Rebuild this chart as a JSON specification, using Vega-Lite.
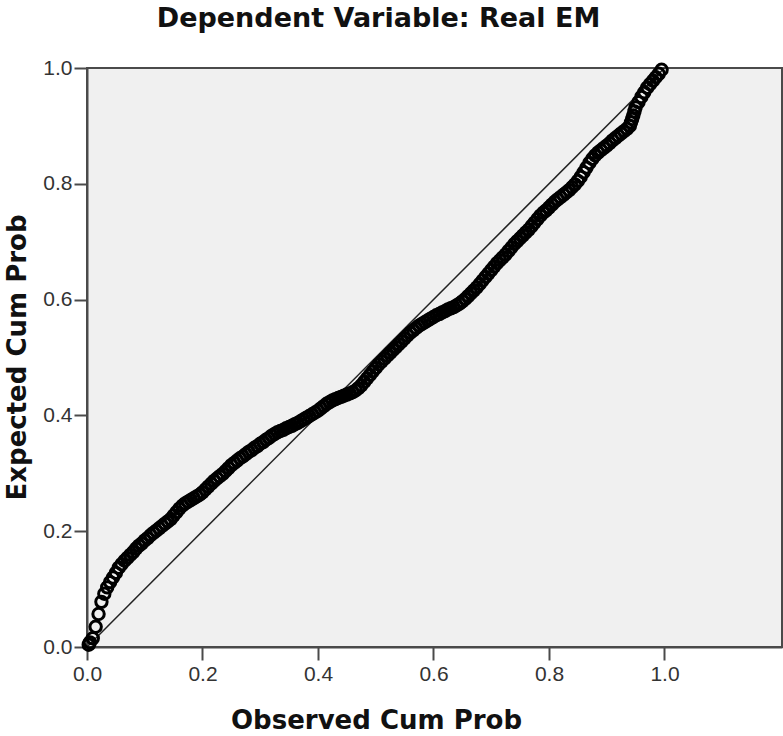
{
  "$schema": "https://vega.github.io/schema/vega-lite/v6.json",
  "width": 695,
  "height": 579,
  "autosize": {"type": "none"},
  "padding": {"left": 87, "top": 68, "right": 1, "bottom": 89},
  "background": "white",
  "config": {
    "view": {"fill": "#f0f0f0", "stroke": "#4a4a4a", "strokeWidth": 2},
    "axis": {
      "grid": false,
      "labelFlush": false,
      "labelOverlap": false,
      "domainColor": "#4a4a4a",
      "domainWidth": 2,
      "tickColor": "#4a4a4a",
      "tickWidth": 2,
      "tickSize": 13,
      "labelFont": "Liberation Sans",
      "labelFontSize": 21,
      "labelColor": "#333333",
      "titleFont": "DejaVu Sans",
      "titleFontWeight": "bold",
      "titleFontSize": 26,
      "titleColor": "#111111"
    },
    "title": {"font": "DejaVu Sans", "fontWeight": "bold", "fontSize": 27, "color": "#111111"}
  },
  "title": {"text": "Dependent Variable: Real EM", "anchor": "middle", "frame": "group", "dx": -56, "offset": 24},
  "datasets": {
    "pts": [
      {"obs":0.003,"exp":0.004},{"obs":0.005,"exp":0.008},{"obs":0.010,"exp":0.015},{"obs":0.015,"exp":0.035},
      {"obs":0.020,"exp":0.057},{"obs":0.025,"exp":0.078},{"obs":0.030,"exp":0.092},{"obs":0.035,"exp":0.103},
      {"obs":0.040,"exp":0.112},{"obs":0.045,"exp":0.120},{"obs":0.050,"exp":0.128},{"obs":0.055,"exp":0.137},
      {"obs":0.060,"exp":0.143},{"obs":0.065,"exp":0.149},{"obs":0.070,"exp":0.154},{"obs":0.075,"exp":0.159},
      {"obs":0.080,"exp":0.164},{"obs":0.085,"exp":0.170},{"obs":0.090,"exp":0.175},{"obs":0.095,"exp":0.179},
      {"obs":0.100,"exp":0.184},{"obs":0.105,"exp":0.188},{"obs":0.110,"exp":0.193},{"obs":0.115,"exp":0.197},
      {"obs":0.120,"exp":0.201},{"obs":0.125,"exp":0.205},{"obs":0.130,"exp":0.209},{"obs":0.135,"exp":0.213},
      {"obs":0.140,"exp":0.217},{"obs":0.145,"exp":0.221},{"obs":0.150,"exp":0.227},{"obs":0.155,"exp":0.233},
      {"obs":0.160,"exp":0.239},{"obs":0.165,"exp":0.244},{"obs":0.170,"exp":0.248},{"obs":0.175,"exp":0.251},
      {"obs":0.180,"exp":0.254},{"obs":0.185,"exp":0.257},{"obs":0.190,"exp":0.260},{"obs":0.195,"exp":0.263},
      {"obs":0.200,"exp":0.267},{"obs":0.205,"exp":0.272},{"obs":0.210,"exp":0.277},{"obs":0.215,"exp":0.282},
      {"obs":0.220,"exp":0.287},{"obs":0.225,"exp":0.291},{"obs":0.230,"exp":0.295},{"obs":0.235,"exp":0.299},
      {"obs":0.240,"exp":0.304},{"obs":0.245,"exp":0.309},{"obs":0.250,"exp":0.314},{"obs":0.255,"exp":0.318},
      {"obs":0.260,"exp":0.322},{"obs":0.265,"exp":0.326},{"obs":0.270,"exp":0.329},{"obs":0.275,"exp":0.333},
      {"obs":0.280,"exp":0.337},{"obs":0.285,"exp":0.340},{"obs":0.290,"exp":0.344},{"obs":0.295,"exp":0.347},
      {"obs":0.300,"exp":0.351},{"obs":0.305,"exp":0.354},{"obs":0.310,"exp":0.358},{"obs":0.315,"exp":0.361},
      {"obs":0.320,"exp":0.365},{"obs":0.325,"exp":0.368},{"obs":0.330,"exp":0.371},{"obs":0.335,"exp":0.373},
      {"obs":0.340,"exp":0.375},{"obs":0.345,"exp":0.378},{"obs":0.350,"exp":0.380},{"obs":0.355,"exp":0.382},
      {"obs":0.360,"exp":0.385},{"obs":0.365,"exp":0.387},{"obs":0.370,"exp":0.390},{"obs":0.375,"exp":0.393},
      {"obs":0.380,"exp":0.396},{"obs":0.385,"exp":0.399},{"obs":0.390,"exp":0.402},{"obs":0.395,"exp":0.405},
      {"obs":0.400,"exp":0.408},{"obs":0.405,"exp":0.412},{"obs":0.410,"exp":0.416},{"obs":0.415,"exp":0.420},
      {"obs":0.420,"exp":0.423},{"obs":0.425,"exp":0.426},{"obs":0.430,"exp":0.428},{"obs":0.435,"exp":0.430},
      {"obs":0.440,"exp":0.432},{"obs":0.445,"exp":0.434},{"obs":0.450,"exp":0.436},{"obs":0.455,"exp":0.438},
      {"obs":0.460,"exp":0.440},{"obs":0.465,"exp":0.443},{"obs":0.470,"exp":0.447},{"obs":0.475,"exp":0.452},
      {"obs":0.480,"exp":0.458},{"obs":0.485,"exp":0.464},{"obs":0.490,"exp":0.470},{"obs":0.495,"exp":0.476},
      {"obs":0.500,"exp":0.482},{"obs":0.505,"exp":0.488},{"obs":0.510,"exp":0.493},{"obs":0.515,"exp":0.498},
      {"obs":0.520,"exp":0.503},{"obs":0.525,"exp":0.508},{"obs":0.530,"exp":0.513},{"obs":0.535,"exp":0.518},
      {"obs":0.540,"exp":0.523},{"obs":0.545,"exp":0.528},{"obs":0.550,"exp":0.533},{"obs":0.555,"exp":0.538},
      {"obs":0.560,"exp":0.543},{"obs":0.565,"exp":0.547},{"obs":0.570,"exp":0.551},{"obs":0.575,"exp":0.555},
      {"obs":0.580,"exp":0.558},{"obs":0.585,"exp":0.561},{"obs":0.590,"exp":0.564},{"obs":0.595,"exp":0.567},
      {"obs":0.600,"exp":0.570},{"obs":0.605,"exp":0.573},{"obs":0.610,"exp":0.575},{"obs":0.615,"exp":0.578},
      {"obs":0.620,"exp":0.580},{"obs":0.625,"exp":0.583},{"obs":0.630,"exp":0.585},{"obs":0.635,"exp":0.587},
      {"obs":0.640,"exp":0.590},{"obs":0.645,"exp":0.593},{"obs":0.650,"exp":0.597},{"obs":0.655,"exp":0.601},
      {"obs":0.660,"exp":0.606},{"obs":0.665,"exp":0.611},{"obs":0.670,"exp":0.616},{"obs":0.675,"exp":0.621},
      {"obs":0.680,"exp":0.627},{"obs":0.685,"exp":0.633},{"obs":0.690,"exp":0.639},{"obs":0.695,"exp":0.645},
      {"obs":0.700,"exp":0.651},{"obs":0.705,"exp":0.657},{"obs":0.710,"exp":0.663},{"obs":0.715,"exp":0.668},
      {"obs":0.720,"exp":0.673},{"obs":0.725,"exp":0.678},{"obs":0.730,"exp":0.684},{"obs":0.735,"exp":0.690},
      {"obs":0.740,"exp":0.696},{"obs":0.745,"exp":0.701},{"obs":0.750,"exp":0.706},{"obs":0.755,"exp":0.711},
      {"obs":0.760,"exp":0.716},{"obs":0.765,"exp":0.721},{"obs":0.770,"exp":0.727},{"obs":0.775,"exp":0.733},
      {"obs":0.780,"exp":0.739},{"obs":0.785,"exp":0.745},{"obs":0.790,"exp":0.750},{"obs":0.795,"exp":0.754},
      {"obs":0.800,"exp":0.759},{"obs":0.805,"exp":0.764},{"obs":0.810,"exp":0.769},{"obs":0.815,"exp":0.773},
      {"obs":0.820,"exp":0.777},{"obs":0.825,"exp":0.781},{"obs":0.830,"exp":0.785},{"obs":0.835,"exp":0.789},
      {"obs":0.840,"exp":0.794},{"obs":0.845,"exp":0.799},{"obs":0.850,"exp":0.805},{"obs":0.855,"exp":0.812},
      {"obs":0.860,"exp":0.820},{"obs":0.865,"exp":0.828},{"obs":0.870,"exp":0.836},{"obs":0.875,"exp":0.843},
      {"obs":0.880,"exp":0.849},{"obs":0.885,"exp":0.854},{"obs":0.890,"exp":0.858},{"obs":0.895,"exp":0.862},
      {"obs":0.900,"exp":0.866},{"obs":0.905,"exp":0.870},{"obs":0.910,"exp":0.875},{"obs":0.915,"exp":0.879},
      {"obs":0.920,"exp":0.883},{"obs":0.925,"exp":0.887},{"obs":0.930,"exp":0.891},{"obs":0.935,"exp":0.895},
      {"obs":0.940,"exp":0.900},{"obs":0.942,"exp":0.906},{"obs":0.944,"exp":0.912},{"obs":0.946,"exp":0.918},
      {"obs":0.948,"exp":0.925},{"obs":0.950,"exp":0.932},{"obs":0.955,"exp":0.941},{"obs":0.960,"exp":0.950},
      {"obs":0.965,"exp":0.958},{"obs":0.970,"exp":0.966},{"obs":0.975,"exp":0.972},{"obs":0.980,"exp":0.978},
      {"obs":0.985,"exp":0.984},{"obs":0.990,"exp":0.990},{"obs":0.995,"exp":0.997}
    ],
    "diag": [{"obs":0,"exp":0},{"obs":1,"exp":1}]
  },
  "layer": [
    {
      "data": {"name": "diag"},
      "mark": {"type": "line", "color": "#222222", "strokeWidth": 1.5},
      "encoding": {
        "x": {"field": "obs", "type": "quantitative"},
        "y": {"field": "exp", "type": "quantitative"}
      }
    },
    {
      "data": {"name": "pts"},
      "mark": {"type": "point", "shape": "circle", "filled": false, "stroke": "#000000", "strokeWidth": 3, "size": 130, "opacity": 1},
      "encoding": {
        "x": {
          "field": "obs", "type": "quantitative",
          "scale": {"domain": [0, 1.2035], "nice": false, "zero": false},
          "axis": {"values": [0, 0.2, 0.4, 0.6, 0.8, 1.0], "format": ".1f", "title": "Observed Cum Prob", "labelPadding": 3, "titleX": 289, "titleY": 81, "titleBaseline": "alphabetic", "titleAnchor": null, "titleAlign": "center"}
        },
        "y": {
          "field": "exp", "type": "quantitative",
          "scale": {"domain": [0, 1], "nice": false, "zero": false},
          "axis": {"values": [0, 0.2, 0.4, 0.6, 0.8, 1.0], "format": ".1f", "title": "Expected Cum Prob", "labelPadding": 2, "titleX": -62, "titleY": 289, "titleBaseline": "alphabetic", "titleAngle": -90, "titleAlign": "center"}
        }
      }
    }
  ]
}
